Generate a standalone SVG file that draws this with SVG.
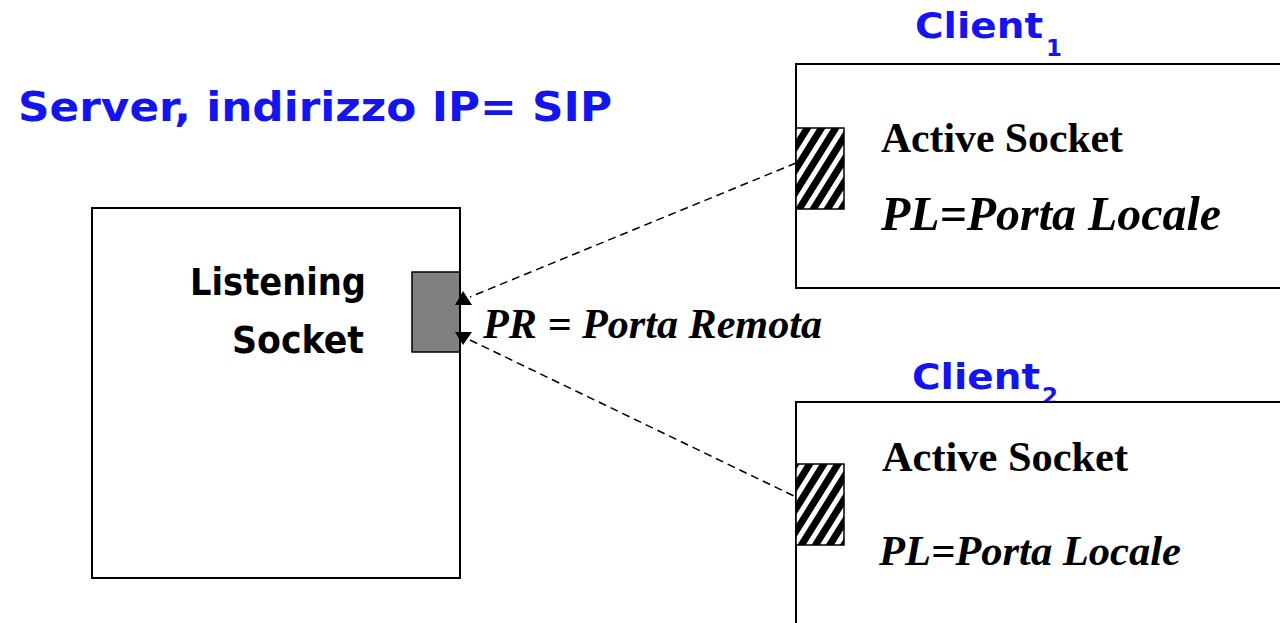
<svg xmlns="http://www.w3.org/2000/svg" width="1280" height="623" viewBox="0 0 1280 623">
<style>
.box{fill:#fff;stroke:#000;stroke-width:2}
.comic{font-family:"Comic Sans MS","DejaVu Sans",sans-serif;font-weight:bold}
.blue{fill:#1414EE}
.times{font-family:"Liberation Serif","Times New Roman",serif;font-weight:bold;fill:#000}
.it{font-style:italic}
.dash{fill:none;stroke:#000;stroke-width:1.5;stroke-dasharray:8 5}
</style>
<defs>
<pattern id="hatch" width="12" height="12" patternUnits="userSpaceOnUse" patternTransform="rotate(32)">
<rect width="12" height="12" fill="#000"/>
<rect x="0" y="0" width="5" height="12" fill="#fff"/>
</pattern>
</defs>
<rect width="1280" height="623" fill="#fff"/>
<text class="comic blue" x="18" y="121" font-size="40" textLength="594" lengthAdjust="spacingAndGlyphs">Server, indirizzo IP= SIP</text>
<g id="server">
<rect class="box" x="92" y="208" width="368" height="370"/>
<text class="comic" x="190" y="295" font-size="37" textLength="176" lengthAdjust="spacingAndGlyphs">Listening</text>
<text class="comic" x="232" y="353" font-size="37" textLength="132" lengthAdjust="spacingAndGlyphs">Socket</text>
</g>
<g id="listening-socket">
<rect x="412" y="272" width="48" height="80" fill="#808080" stroke="#000" stroke-width="1.5"/>
<line x1="460" y1="208" x2="460" y2="578" stroke="#000" stroke-width="2"/>
</g>
<g id="client1">
<text class="comic blue" x="915" y="38" font-size="35" textLength="128" lengthAdjust="spacingAndGlyphs">Client</text>
<text class="comic blue" x="1046" y="56" font-size="23">1</text>
<rect class="box" x="796" y="64" width="500" height="224"/>
<rect x="796" y="128" width="48" height="81" fill="url(#hatch)" stroke="#000" stroke-width="1.5"/>
<text class="times" x="881" y="152" font-size="42" textLength="242" lengthAdjust="spacingAndGlyphs">Active Socket</text>
<text class="times it" x="881" y="230" font-size="49" textLength="340" lengthAdjust="spacingAndGlyphs">PL=Porta Locale</text>
</g>
<g id="client2">
<text class="comic blue" x="912" y="389" font-size="35" textLength="128" lengthAdjust="spacingAndGlyphs">Client</text>
<text class="comic blue" x="1042" y="404" font-size="23">2</text>
<rect class="box" x="796" y="402" width="500" height="260"/>
<rect x="796" y="464" width="48" height="81" fill="url(#hatch)" stroke="#000" stroke-width="1.5"/>
<text class="times" x="882" y="471" font-size="42" textLength="246" lengthAdjust="spacingAndGlyphs">Active Socket</text>
<text class="times it" x="879" y="565" font-size="43" textLength="302" lengthAdjust="spacingAndGlyphs">PL=Porta Locale</text>
</g>
<g id="connectors">
<line class="dash" x1="796" y1="163" x2="470" y2="297"/>
<polygon points="463,291 455,305 472,305" fill="#000"/>
<line class="dash" x1="470" y1="340" x2="796" y2="497"/>
<polygon points="455,332 472,332 463,345" fill="#000"/>
</g>
<text class="times it" x="483" y="338" font-size="42" textLength="339" lengthAdjust="spacingAndGlyphs">PR = Porta Remota</text>
</svg>
